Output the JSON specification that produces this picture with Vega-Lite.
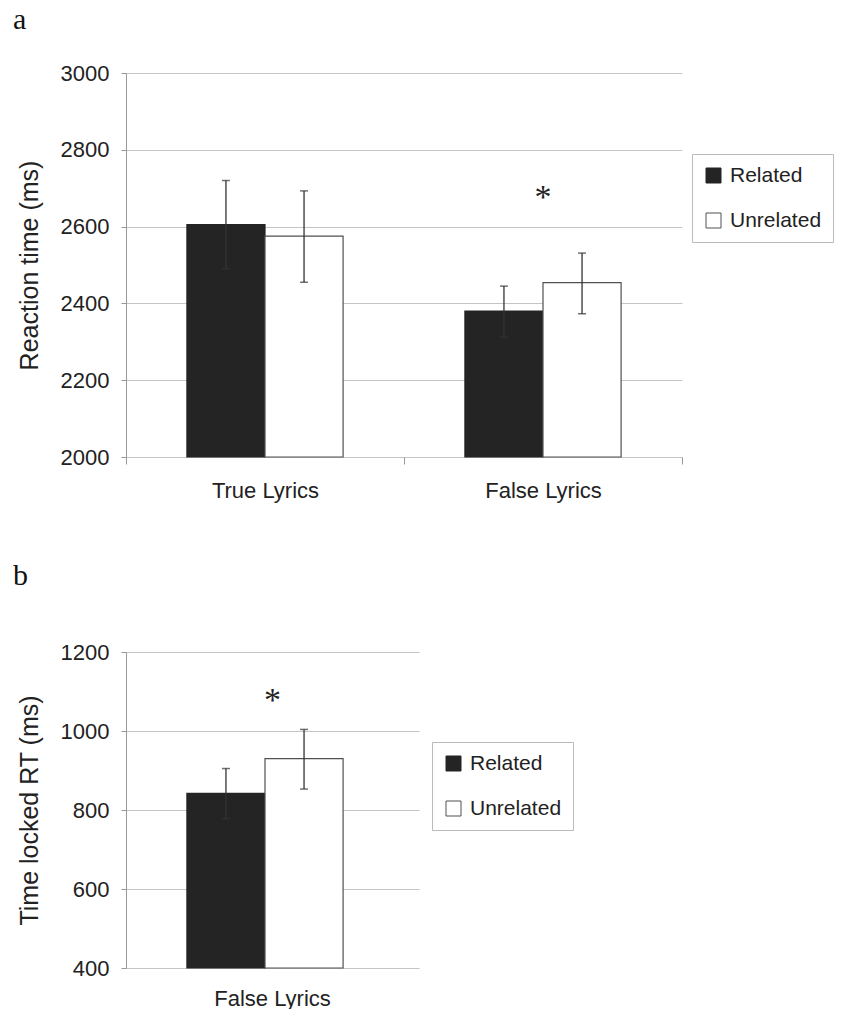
{
  "$schema": "https://vega.github.io/schema/vega-lite/v6.json",
  "background": "white",
  "padding": {"left": 13, "top": 5, "right": 0, "bottom": 0},
  "spacing": 60,
  "config": {
    "view": {"stroke": null},
    "font": "Liberation Sans",
    "axis": {
      "domainColor": "#999999",
      "tickColor": "#999999",
      "gridColor": "#c4c4c4",
      "labelFont": "Liberation Sans",
      "labelFontSize": 22,
      "labelColor": "#222222",
      "titleFont": "Liberation Sans",
      "titleFontSize": 25,
      "titleFontWeight": "normal",
      "titleColor": "#222222"
    },
    "axisY": {"tickSize": 5, "labelPadding": 12, "titlePadding": 18, "grid": true, "domain": true, "format": "d"},
    "legend": {
      "labelFont": "Liberation Sans",
      "labelFontSize": 21,
      "labelColor": "#222222",
      "symbolType": "square",
      "symbolSize": 225,
      "symbolStrokeColor": "#666666",
      "symbolStrokeWidth": 1,
      "strokeColor": "#bbbbbb",
      "fillColor": "#ffffff",
      "padding": 11,
      "rowPadding": 23,
      "labelOffset": 6,
      "cornerRadius": 0
    }
  },
  "datasets": {
    "a": [
      {"cat": "True Lyrics", "cond": "Related", "mean": 2605, "lo": 2490, "hi": 2720},
      {"cat": "True Lyrics", "cond": "Unrelated", "mean": 2575, "lo": 2455, "hi": 2693},
      {"cat": "False Lyrics", "cond": "Related", "mean": 2380, "lo": 2312, "hi": 2445},
      {"cat": "False Lyrics", "cond": "Unrelated", "mean": 2454, "lo": 2373, "hi": 2531}
    ],
    "sa": [{"cat": "False Lyrics", "v": 2690, "label": "*"}],
    "b": [
      {"cat": "False Lyrics", "cond": "Related", "mean": 842, "lo": 778, "hi": 905},
      {"cat": "False Lyrics", "cond": "Unrelated", "mean": 930, "lo": 853, "hi": 1004}
    ],
    "sb": [{"cat": "False Lyrics", "v": 1090, "label": "*"}]
  },
  "vconcat": [
    {
      "title": {"text": "a", "anchor": "start", "frame": "group", "dx": -113, "offset": 27, "font": "Liberation Serif", "fontSize": 30, "fontWeight": "normal", "color": "#111111"},
      "width": 556,
      "height": 384,
      "layer": [
        {
          "data": {"name": "a"},
          "mark": {"type": "bar", "strokeWidth": 1.2},
          "encoding": {
            "x": {"field": "cat", "type": "nominal", "sort": ["True Lyrics", "False Lyrics"], "scale": {"paddingInner": 0, "paddingOuter": 0},
                  "axis": {"title": null, "tickBand": "extent", "labelAngle": 0, "grid": false, "ticks": true, "tickSize": 7, "labelPadding": 16, "domain": false}},
            "xOffset": {"field": "cond", "type": "nominal", "sort": ["Related", "Unrelated"], "scale": {"paddingInner": 0, "paddingOuter": 0.78}},
            "y": {"field": "mean", "type": "quantitative", "title": "Reaction time (ms)", "scale": {"domain": [2000, 3000], "nice": false, "zero": false},
                  "axis": {"values": [2000, 2200, 2400, 2600, 2800, 3000]}},
            "y2": {"datum": 2000},
            "fill": {"field": "cond", "type": "nominal", "scale": {"domain": ["Related", "Unrelated"], "range": ["#242424", "#ffffff"]},
                     "legend": {"orient": "none", "legendX": 566, "legendY": 81, "title": null, "labelExpr": "datum.label + '\u00a0\u00a0\u00a0'"}},
            "stroke": {"field": "cond", "type": "nominal", "scale": {"domain": ["Related", "Unrelated"], "range": ["#242424", "#505050"]}, "legend": null}
          }
        },
        {
          "data": {"name": "a"},
          "mark": {"type": "rule", "color": "#333333", "strokeWidth": 1.3},
          "encoding": {
            "x": {"field": "cat", "type": "nominal", "sort": ["True Lyrics", "False Lyrics"]},
            "xOffset": {"field": "cond", "type": "nominal", "sort": ["Related", "Unrelated"]},
            "y": {"field": "lo", "type": "quantitative", "title": "Reaction time (ms)"},
            "y2": {"field": "hi"}
          }
        },
        {
          "data": {"name": "a"},
          "mark": {"type": "tick", "color": "#333333", "thickness": 1.5, "size": 8, "orient": "horizontal"},
          "encoding": {
            "x": {"field": "cat", "type": "nominal", "sort": ["True Lyrics", "False Lyrics"]},
            "xOffset": {"field": "cond", "type": "nominal", "sort": ["Related", "Unrelated"]},
            "y": {"field": "lo", "type": "quantitative", "title": "Reaction time (ms)"}
          }
        },
        {
          "data": {"name": "a"},
          "mark": {"type": "tick", "color": "#333333", "thickness": 1.5, "size": 8, "orient": "horizontal"},
          "encoding": {
            "x": {"field": "cat", "type": "nominal", "sort": ["True Lyrics", "False Lyrics"]},
            "xOffset": {"field": "cond", "type": "nominal", "sort": ["Related", "Unrelated"]},
            "y": {"field": "hi", "type": "quantitative", "title": "Reaction time (ms)"}
          }
        },
        {
          "data": {"name": "sa"},
          "mark": {"type": "text", "font": "Liberation Serif", "fontSize": 34, "baseline": "middle", "dy": 6, "color": "#222222"},
          "encoding": {
            "x": {"field": "cat", "type": "nominal", "sort": ["True Lyrics", "False Lyrics"]},
            "y": {"field": "v", "type": "quantitative", "title": "Reaction time (ms)"},
            "text": {"field": "label"}
          }
        }
      ]
    },
    {
      "title": {"text": "b", "anchor": "start", "frame": "group", "dx": -113, "offset": 50, "font": "Liberation Serif", "fontSize": 30, "fontWeight": "normal", "color": "#111111"},
      "width": 293,
      "height": 316,
      "layer": [
        {
          "data": {"name": "b"},
          "mark": {"type": "bar", "strokeWidth": 1.2},
          "encoding": {
            "x": {"field": "cat", "type": "nominal", "scale": {"paddingInner": 0, "paddingOuter": 0},
                  "axis": {"title": null, "labelAngle": 0, "grid": false, "ticks": false, "labelPadding": 20, "domain": false}},
            "xOffset": {"field": "cond", "type": "nominal", "sort": ["Related", "Unrelated"], "scale": {"paddingInner": 0, "paddingOuter": 0.765}},
            "y": {"field": "mean", "type": "quantitative", "title": "Time locked RT (ms)", "scale": {"domain": [400, 1200], "nice": false, "zero": false},
                  "axis": {"values": [400, 600, 800, 1000, 1200]}},
            "y2": {"datum": 400},
            "fill": {"field": "cond", "type": "nominal", "scale": {"domain": ["Related", "Unrelated"], "range": ["#242424", "#ffffff"]},
                     "legend": {"orient": "none", "legendX": 306, "legendY": 90, "title": null, "labelExpr": "datum.label + '\u00a0\u00a0'"}},
            "stroke": {"field": "cond", "type": "nominal", "scale": {"domain": ["Related", "Unrelated"], "range": ["#242424", "#505050"]}, "legend": null}
          }
        },
        {
          "data": {"name": "b"},
          "mark": {"type": "rule", "color": "#333333", "strokeWidth": 1.3},
          "encoding": {
            "x": {"field": "cat", "type": "nominal"},
            "xOffset": {"field": "cond", "type": "nominal", "sort": ["Related", "Unrelated"]},
            "y": {"field": "lo", "type": "quantitative", "title": "Time locked RT (ms)"},
            "y2": {"field": "hi"}
          }
        },
        {
          "data": {"name": "b"},
          "mark": {"type": "tick", "color": "#333333", "thickness": 1.5, "size": 8, "orient": "horizontal"},
          "encoding": {
            "x": {"field": "cat", "type": "nominal"},
            "xOffset": {"field": "cond", "type": "nominal", "sort": ["Related", "Unrelated"]},
            "y": {"field": "lo", "type": "quantitative", "title": "Time locked RT (ms)"}
          }
        },
        {
          "data": {"name": "b"},
          "mark": {"type": "tick", "color": "#333333", "thickness": 1.5, "size": 8, "orient": "horizontal"},
          "encoding": {
            "x": {"field": "cat", "type": "nominal"},
            "xOffset": {"field": "cond", "type": "nominal", "sort": ["Related", "Unrelated"]},
            "y": {"field": "hi", "type": "quantitative", "title": "Time locked RT (ms)"}
          }
        },
        {
          "data": {"name": "sb"},
          "mark": {"type": "text", "font": "Liberation Serif", "fontSize": 34, "baseline": "middle", "dy": 6, "color": "#222222"},
          "encoding": {
            "x": {"field": "cat", "type": "nominal"},
            "y": {"field": "v", "type": "quantitative", "title": "Time locked RT (ms)"},
            "text": {"field": "label"}
          }
        }
      ]
    }
  ],
  "resolve": {"scale": {"fill": "independent", "stroke": "independent"}, "legend": {"fill": "independent"}}
}
